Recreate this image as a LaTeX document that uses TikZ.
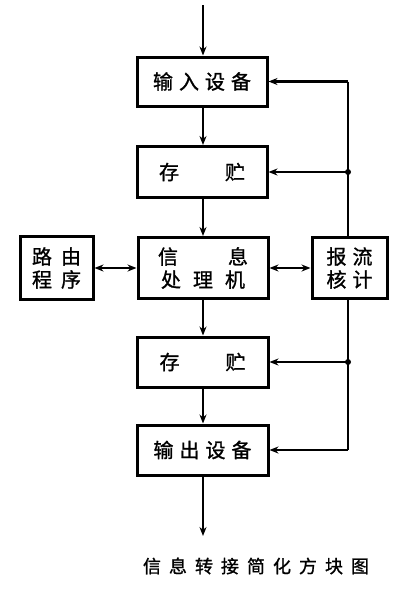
\documentclass[tikz,border=0pt]{standalone}
\usepackage{fontspec}
\newfontfamily\cjk[FakeBold=1.2]{Noto Sans CJK SC}
\usetikzlibrary{arrows.meta}
\begin{document}
\begin{tikzpicture}[x=1pt,y=-1pt,
  box/.style={draw,line width=3pt,inner sep=0pt,align=center,
    font=\cjk\fontsize{20}{23}\selectfont},
  conn/.style={line width=2.5pt},
  arr/.style={conn,-{Stealth[length=9pt,width=7pt]}},
  dbl/.style={conn,{Stealth[length=9pt,width=7pt]}-{Stealth[length=9pt,width=7pt]}},
  dot/.style={circle,fill,inner sep=0pt,minimum size=6pt}]
\useasboundingbox (0,0) rectangle (400,600);
\node[box,minimum width=130pt,minimum height=49pt] (in) at (202,81.5) {输\hspace{6pt}入\hspace{6pt}设\hspace{6pt}备};
\node[box,minimum width=130pt,minimum height=51pt] (s1) at (202,172) {存\hspace{46pt}贮};
\node[box,minimum width=130pt,minimum height=61pt] (proc) at (203,268) {信\hspace{50pt}息\\处\hspace{12pt}理\hspace{12pt}机};
\node[box,minimum width=73pt,minimum height=63pt] (route) at (56.5,268) {路\hspace{9pt}由\\程\hspace{9pt}序};
\node[box,minimum width=75pt,minimum height=61pt] (stat) at (349.5,268) {报\hspace{6pt}流\\核\hspace{6pt}计};
\node[box,minimum width=131pt,minimum height=50pt] (s2) at (202.5,362) {存\hspace{46pt}贮};
\node[box,minimum width=131pt,minimum height=50pt] (out) at (202.5,450) {输\hspace{6pt}出\hspace{6pt}设\hspace{6pt}备};
\coordinate (top) at (203,5);
\coordinate (bot) at (203,536);
\coordinate (c1) at (348,81.5);
\coordinate (j1) at (348,172);
\coordinate (j2) at (348,362);
\coordinate (c2) at (348,450);
\draw[arr] (top) -- (in.north -| top);
\draw[arr] (in.south -| top) -- (s1.north -| top);
\draw[arr] (s1.south -| top) -- (proc.north -| top);
\draw[arr] (proc.south -| top) -- (s2.north -| top);
\draw[arr] (s2.south -| top) -- (out.north -| top);
\draw[arr] (out.south -| top) -- (bot);
\draw[dbl] (route) -- (proc);
\draw[dbl] (proc) -- (stat);
\draw[conn] (c1) -- (c1 |- stat.north);
\draw[conn] (c2 |- stat.south) -- (c2);
\draw[arr] (c1) -- (in.east);
\draw[arr] (j1) -- (s1.east);
\draw[arr] (j2) -- (s2.east);
\draw[arr] (c2) -- (out.east);
\node[dot] (d1) at (j1) {};
\node[dot] (d2) at (j2) {};
\node[font=\cjk\fontsize{18}{20}\selectfont] (cap) at (256,566) {信\hspace{8pt}息\hspace{8pt}转\hspace{8pt}接\hspace{8pt}简\hspace{8pt}化\hspace{8pt}方\hspace{8pt}块\hspace{8pt}图};
\end{tikzpicture}
\end{document}
